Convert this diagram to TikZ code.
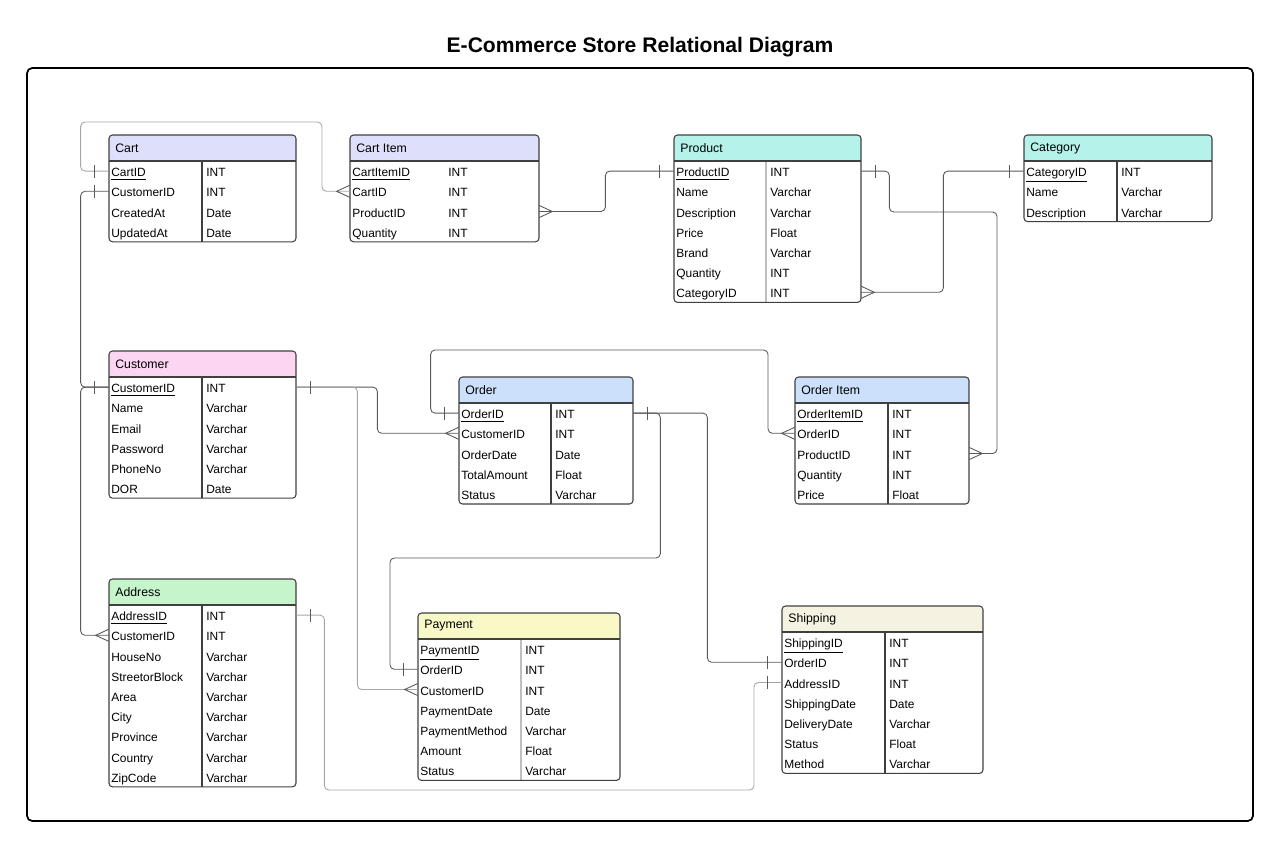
\documentclass[tikz,border=0pt]{standalone}
\usepackage{fontspec}
\setmainfont{Liberation Sans}
\usepackage{tikz}

\definecolor{cartfill}{HTML}{DEDFFB}
\definecolor{prodfill}{HTML}{B5F2EA}
\definecolor{custfill}{HTML}{FCD5F3}
\definecolor{ordfill}{HTML}{CCE0FC}
\definecolor{addrfill}{HTML}{C6F5CC}
\definecolor{payfill}{HTML}{F9F9C7}
\definecolor{shipfill}{HTML}{F5F2E1}

\tikzset{
  rel/.style = {draw=black!65, line width=0.5pt, rounded corners=2.5pt},
  rellight/.style = {rel, draw=black!35},
  relmark/.style = {draw=black!65, line width=0.5pt},
  tblline/.style = {draw=black!75, line width=0.6pt},
  rowbox/.style = {inner sep=0pt, minimum height=0.404cm},
  fieldtxt/.style = {anchor=west, inner sep=0pt, text height=1.6ex, text depth=0.4ex,
    font=\fontsize{6.8}{8}\selectfont},
  headtxt/.style = {anchor=west, inner sep=0pt, font=\fontsize{7}{8}\selectfont}
}

% #1 id, #2 x, #3 y, #4 width, #5 divider, #6 divider style, #7 fill, #8 title, #9 rows
\newcommand\entity[9]{%
  \begin{scope}
    \clip (#2,#3) rectangle (#2+#4,#3+26);
    \fill[#7, rounded corners=2pt] (#2,#3) rectangle (#2+#4,#3+40);
  \end{scope}
  \foreach \f/\t [count=\i] in {#9} {
    \node[rowbox, minimum width=#4*0.02cm] (#1-\f) at (#2+#4/2,#3+15.9+20.2*\i) {};
    \node[fieldtxt] (#1-\f-name) at (#2+2,#3+15.9+20.2*\i) {\ifnum\i=1 \underline{\f}\else\f\fi};
    \node[fieldtxt] (#1-\f-type) at (#2+#5+4,#3+15.9+20.2*\i) {\t};
    \xdef\nrows{\i}
  }
  \draw[tblline, #6] (#2+#5,#3+26) -- (#2+#5,#3+26+20.2*\nrows);
  \draw[tblline] (#2,#3+26) -- (#2+#4,#3+26);
  \draw[tblline, rounded corners=2pt] (#2,#3) rectangle (#2+#4,#3+26+20.2*\nrows);
  \node[headtxt] (#1-title) at (#2+6,#3+13) {#8};
}
% one and many ends, #2 = -1 on the west side, 1 on the east side
\newcommand\onemark[2]{\draw[relmark] (#1) ++({14*#2},-6.5) -- ++(0,13);}
\newcommand\manymark[2]{\draw[relmark] (#1) ++(0,-6) -- ++({13*#2},6) -- ++({-13*#2},6);}

\begin{document}
\begin{tikzpicture}[x=0.02cm, y=-0.02cm]
  \useasboundingbox (0,0) rectangle (1280,848);
  \node[font=\fontsize{12}{14}\selectfont\bfseries] (title) at (640,47) {E-Commerce Store Relational Diagram};
  \draw[line width=1pt, rounded corners=3pt] (27,68) rectangle (1253,821);

  % tables
  \entity{cart}{109}{135}{187}{93}{}{cartfill}{Cart}
    {CartID/INT,CustomerID/INT,CreatedAt/Date,UpdatedAt/Date}
  \entity{citem}{350}{135}{189}{94}{draw=none}{cartfill}{Cart Item}
    {CartItemID/INT,CartID/INT,ProductID/INT,Quantity/INT}
  \entity{prod}{674}{135}{187}{92}{draw=black!25}{prodfill}{Product}
    {ProductID/INT,Name/Varchar,Description/Varchar,Price/Float,Brand/Varchar,Quantity/INT,CategoryID/INT}
  \entity{cat}{1024}{135}{188}{93}{}{prodfill}{Category}
    {CategoryID/INT,Name/Varchar,Description/Varchar}
  \entity{cust}{109}{351}{187}{93}{}{custfill}{Customer}
    {CustomerID/INT,Name/Varchar,Email/Varchar,Password/Varchar,PhoneNo/Varchar,DOR/Date}
  \entity{ord}{459}{377}{174}{92}{}{ordfill}{Order}
    {OrderID/INT,CustomerID/INT,OrderDate/Date,TotalAmount/Float,Status/Varchar}
  \entity{oitem}{795}{377}{174}{93}{}{ordfill}{Order Item}
    {OrderItemID/INT,OrderID/INT,ProductID/INT,Quantity/INT,Price/Float}
  \entity{addr}{109}{579}{187}{93}{}{addrfill}{Address}
    {AddressID/INT,CustomerID/INT,HouseNo/Varchar,StreetorBlock/Varchar,Area/Varchar,City/Varchar,Province/Varchar,Country/Varchar,ZipCode/Varchar}
  \entity{pay}{418}{613}{202}{103}{draw=black!25}{payfill}{Payment}
    {PaymentID/INT,OrderID/INT,CustomerID/INT,PaymentDate/Date,PaymentMethod/Varchar,Amount/Float,Status/Varchar}
  \entity{ship}{782}{606}{201}{103}{}{shipfill}{Shipping}
    {ShippingID/INT,OrderID/INT,AddressID/INT,ShippingDate/Date,DeliveryDate/Varchar,Status/Float,Method/Varchar}

  % relations
  \draw[rellight] (cart-CartID.west) -- ++(-28,0) |- (322,122) |- (citem-CartID.west);
  \draw[rel] (cust-CustomerID.west) -- ++(-28,0) |- (cart-CustomerID.west);
  \draw[rel] (cust-CustomerID.west) -- ++(-28,0) |- (addr-CustomerID.west);
  \draw[rel] (citem-ProductID.east) -- ++(66,0) |- (prod-ProductID.west);
  \draw[rel] (prod-CategoryID.east) -- ++(82,0) |- (cat-CategoryID.west);
  \draw[rel] (prod-ProductID.east) -- ++(28,0) |- (997,212) |- (oitem-ProductID.east);
  \draw[rel] (ord-OrderID.west) -- ++(-28,0) |- (768,350) |- (oitem-OrderID.west);
  \draw[rel] (cust-CustomerID.east) -- ++(81,0) |- (ord-CustomerID.west);
  \draw[rellight] (cust-CustomerID.east) -- ++(61,0) |- (pay-CustomerID.west);
  \draw[rel] (ord-OrderID.east) -- ++(27,0) |- (390,558) |- (pay-OrderID.west);
  \draw[rel] (ord-OrderID.east) -- ++(74,0) |- (ship-OrderID.west);
  \draw[rellight] (addr-AddressID.east) -- ++(28,0) |- (754,790) |- (ship-AddressID.west);

  % ends
  \onemark{cart-CartID.west}{-1}
  \manymark{citem-CartID.west}{-1}
  \onemark{cart-CustomerID.west}{-1}
  \onemark{cust-CustomerID.west}{-1}
  \manymark{addr-CustomerID.west}{-1}
  \manymark{citem-ProductID.east}{1}
  \onemark{prod-ProductID.west}{-1}
  \manymark{prod-CategoryID.east}{1}
  \onemark{cat-CategoryID.west}{-1}
  \onemark{prod-ProductID.east}{1}
  \manymark{oitem-ProductID.east}{1}
  \onemark{ord-OrderID.west}{-1}
  \manymark{oitem-OrderID.west}{-1}
  \onemark{cust-CustomerID.east}{1}
  \manymark{ord-CustomerID.west}{-1}
  \manymark{pay-CustomerID.west}{-1}
  \onemark{ord-OrderID.east}{1}
  \onemark{pay-OrderID.west}{-1}
  \onemark{ship-OrderID.west}{-1}
  \onemark{addr-AddressID.east}{1}
  \onemark{ship-AddressID.west}{-1}
\end{tikzpicture}
\end{document}
